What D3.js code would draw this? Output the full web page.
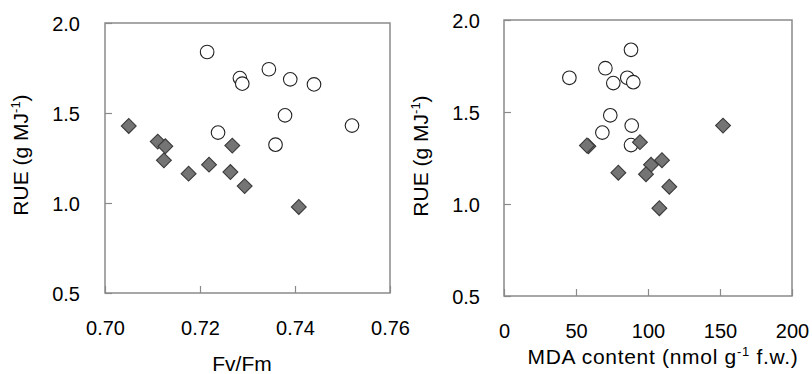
<!DOCTYPE html>
<html>
<head>
<meta charset="utf-8">
<script src="https://cdn.jsdelivr.net/npm/d3@7"></script>
<style>
  html, body { margin: 0; padding: 0; background: #fff; }
  svg { display: block; font-family: "Liberation Sans", Arial, sans-serif; }
</style>
</head>
<body>
<svg id="chart" width="812" height="374"></svg>
<script>
// Left panel: Fv/Fm vs RUE
const fvfmOpen = [0.7215, 0.7284, 0.7289, 0.7345, 0.7390, 0.7440, 0.7379, 0.7238, 0.7359, 0.7520];
const rueOpenA = [1.839, 1.694, 1.663, 1.743, 1.687, 1.659, 1.487, 1.391, 1.324, 1.430];
const fvfmFilled = [0.7050, 0.7111, 0.7127, 0.7124, 0.7176, 0.7219, 0.7268, 0.7264, 0.7294, 0.7408];
const rueFilledA = [1.428, 1.341, 1.315, 1.237, 1.163, 1.213, 1.319, 1.172, 1.094, 0.978];

// Right panel: MDA content vs RUE
const mdaOpen = [88.2, 45.4, 70.4, 75.9, 85.6, 89.8, 73.8, 68.3, 88.7, 88.2];
const rueOpenB = [1.838, 1.686, 1.738, 1.657, 1.686, 1.662, 1.482, 1.388, 1.426, 1.320];
const mdaFilled = [58.6, 57.6, 94.4, 79.4, 102.1, 98.6, 109.7, 114.8, 107.9, 152.1];
const rueFilledB = [1.314, 1.318, 1.336, 1.170, 1.213, 1.162, 1.238, 1.094, 0.977, 1.426];

const xTicksA = [0.70, 0.72, 0.74, 0.76];
const xTicksB = [0, 50, 100, 150, 200];
const yTicks = [0.5, 1.0, 1.5, 2.0];

const svg = d3.select("#chart");
const frameColor = "#8a8a8a";

function panel(opts) {
  const x = d3.scaleLinear().domain(opts.xDomain).range([opts.left, opts.right]);
  const y = d3.scaleLinear().domain([0.5, 2.0]).range([opts.bottom, opts.top]);
  const g = svg.append("g");

  // frame
  g.append("rect")
    .attr("x", opts.left).attr("y", opts.top)
    .attr("width", opts.right - opts.left).attr("height", opts.bottom - opts.top)
    .attr("fill", "none").attr("stroke", frameColor).attr("stroke-width", 1.5);

  // inner ticks
  g.append("g")
    .attr("transform", `translate(0,${opts.bottom})`)
    .call(d3.axisBottom(x).tickValues(opts.xTicks).tickSizeInner(-7).tickSizeOuter(0).tickFormat(opts.xFormat))
    .call(a => a.select(".domain").remove())
    .call(a => a.selectAll("line").attr("stroke", frameColor).attr("stroke-width", 1.2))
    .call(a => a.selectAll("text")
      .attr("y", opts.xLabelY - opts.bottom).attr("dy", 0)
      .attr("fill", "#000").style("font-size", "20px"));

  g.append("g")
    .attr("transform", `translate(${opts.left},0)`)
    .call(d3.axisLeft(y).tickValues(yTicks).tickSizeInner(-7).tickSizeOuter(0).tickFormat(d3.format(".1f")))
    .call(a => a.select(".domain").remove())
    .call(a => a.selectAll("line").attr("stroke", frameColor).attr("stroke-width", 1.2))
    .call(a => a.selectAll("text")
      .attr("x", opts.yLabelX - opts.left).attr("dy", "0.36em")
      .attr("fill", "#000").style("font-size", "20px"));

  // circles (open)
  g.append("g").selectAll("circle")
    .data(d3.zip(opts.openX, opts.openY))
    .join("circle")
    .attr("cx", d => x(d[0])).attr("cy", d => y(d[1]))
    .attr("r", 6.8)
    .attr("fill", "#fff").attr("stroke", "#222").attr("stroke-width", 1.1);

  // diamonds (filled)
  g.append("g").selectAll("path")
    .data(d3.zip(opts.filledX, opts.filledY))
    .join("path")
    .attr("d", d3.symbol(d3.symbolSquare, 110))
    .attr("transform", d => `translate(${x(d[0])},${y(d[1])}) rotate(45)`)
    .attr("fill", "#747474").attr("stroke", "#3a3a3a").attr("stroke-width", 1.1);

  // y title
  const yt = g.append("text")
    .attr("transform", `translate(${opts.yTitleX},${opts.yTitleY}) rotate(-90)`)
    .attr("text-anchor", "middle")
    .style("font-size", "21px").attr("fill", "#000");
  yt.append("tspan").text("RUE (g MJ");
  yt.append("tspan").text("-1").style("font-size", "13px").attr("dy", "-8");
  yt.append("tspan").text(")").attr("dy", "8");

  // x title
  const xt = g.append("text")
    .attr("x", opts.xTitleX).attr("y", opts.xTitleY)
    .attr("text-anchor", "middle")
    .style("font-size", "21px").style("letter-spacing", opts.xTitleSpacing)
    .attr("fill", "#000");
  opts.xTitle.forEach(p => {
    const t = xt.append("tspan").text(p.t);
    if (p.sup) t.style("font-size", "13px").attr("dy", "-8");
    if (p.down) t.attr("dy", "8");
  });
}

panel({
  left: 105, right: 390, top: 23, bottom: 293,
  xDomain: [0.70, 0.76], xTicks: xTicksA, xFormat: d3.format(".2f"),
  openX: fvfmOpen, openY: rueOpenA, filledX: fvfmFilled, filledY: rueFilledA,
  xLabelY: 335, yLabelX: 80, yTitleX: 28, yTitleY: 155,
  xTitle: [{t: "Fv/Fm"}], xTitleX: 242, xTitleY: 371, xTitleSpacing: "0px"
});

panel({
  left: 504, right: 792, top: 20, bottom: 296,
  xDomain: [0, 200], xTicks: xTicksB, xFormat: d3.format("d"),
  openX: mdaOpen, openY: rueOpenB, filledX: mdaFilled, filledY: rueFilledB,
  xLabelY: 338, yLabelX: 480, yTitleX: 428, yTitleY: 156,
  xTitle: [{t: "MDA content (nmol g"}, {t: "-1", sup: true}, {t: " f.w.)", down: true}],
  xTitleX: 663, xTitleY: 364, xTitleSpacing: "0.7px"
});
</script>
</body>
</html>
